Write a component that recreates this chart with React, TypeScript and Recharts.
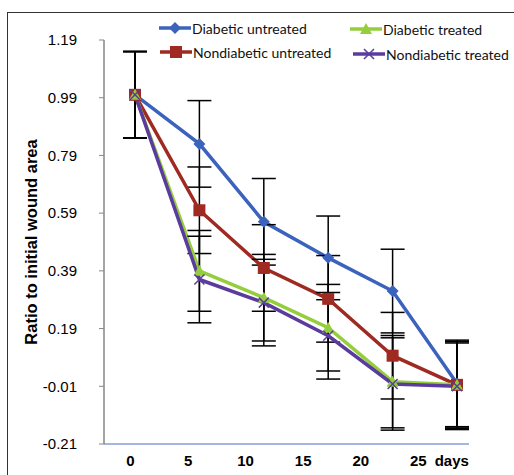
import React from "react";
import { LineChart, Line, XAxis, YAxis, ErrorBar } from "recharts";

// sampling points (evenly spaced in the source figure)
const points = ["p0", "p1", "p2", "p3", "p4", "p5"];

const diabeticUntreated = [1.0, 0.83, 0.56, 0.435, 0.32, 0.0];
const diabeticUntreatedErr = [0.15, 0.15, 0.15, 0.145, 0.145, 0.15];

const nondiabeticUntreated = [1.0, 0.6, 0.4, 0.293, 0.096, -0.005];
const nondiabeticUntreatedErr = [0.15, 0.15, 0.15, 0.15, 0.15, 0.15];

const diabeticTreated = [1.0, 0.39, 0.297, 0.193, 0.006, -0.005];
const diabeticTreatedErr = [0.15, 0.14, 0.15, 0.15, 0.16, 0.15];

const nondiabeticTreated = [1.0, 0.36, 0.28, 0.165, -0.002, -0.01];
const nondiabeticTreatedErr = [0.15, 0.15, 0.15, 0.15, 0.16, 0.15];

const yTicks = [-0.21, -0.01, 0.19, 0.39, 0.59, 0.79, 0.99, 1.19];
const dayTicks = [0, 5, 10, 15, 20, 25, 27.9];
const dayLabels = ["0", "5", "10", "15", "20", "25", "days"];

const BLUE = "#3B63BE";
const RED = "#9E2A22";
const GREEN = "#95CE3C";
const PURPLE = "#5A3C9E";

const data = points.map((p, i) => ({
  point: p,
  du: diabeticUntreated[i],
  duErr: diabeticUntreatedErr[i],
  nu: nondiabeticUntreated[i],
  nuErr: nondiabeticUntreatedErr[i],
  dt: diabeticTreated[i],
  dtErr: diabeticTreatedErr[i],
  nt: nondiabeticTreated[i],
  ntErr: nondiabeticTreatedErr[i],
}));

const Diamond = ({ cx, cy, color }: any) => (
  <path
    d={`M${cx},${cy - 6} L${cx + 6},${cy} L${cx},${cy + 6} L${cx - 6},${cy} Z`}
    fill={color}
  />
);
const Square = ({ cx, cy, color }: any) => (
  <rect x={cx - 6} y={cy - 6} width={12} height={12} fill={color} />
);
const Triangle = ({ cx, cy, color }: any) => (
  <path
    d={`M${cx},${cy - 6} L${cx + 6},${cy + 5} L${cx - 6},${cy + 5} Z`}
    fill={color}
  />
);
const Cross = ({ cx, cy, color }: any) => (
  <path
    d={`M${cx - 5},${cy - 5} L${cx + 5},${cy + 5} M${cx + 5},${cy - 5} L${cx - 5},${cy + 5}`}
    stroke={color}
    strokeWidth={1.5}
  />
);

const series = [
  { key: "du", name: "Diabetic untreated", color: BLUE, Marker: Diamond },
  { key: "nu", name: "Nondiabetic untreated", color: RED, Marker: Square },
  { key: "dt", name: "Diabetic treated", color: GREEN, Marker: Triangle },
  { key: "nt", name: "Nondiabetic treated", color: PURPLE, Marker: Cross },
];

// legend sits in two columns above the plot
const legendLayout = [
  { key: "du", left: 159, top: 19 },
  { key: "dt", left: 350, top: 20 },
  { key: "nu", left: 160, top: 43 },
  { key: "nt", left: 353, top: 45 },
];

function ChartLegend() {
  return (
    <>
      {legendLayout.map((l) => {
        const s = series.find((x) => x.key === l.key)!;
        const M = s.Marker;
        return (
          <div
            key={l.key}
            style={{
              position: "absolute",
              left: l.left,
              top: l.top,
              display: "flex",
              alignItems: "center",
              whiteSpace: "nowrap",
            }}
          >
            <svg width={32} height={18}>
              <line x1={0} y1={9} x2={32} y2={9} stroke={s.color} strokeWidth={3.5} />
              <M cx={16} cy={9} color={s.color} />
            </svg>
            <span
              style={{
                fontFamily: "Lato, 'Open Sans', sans-serif",
                fontSize: 14,
                color: "#111",
                marginLeft: 1,
              }}
            >
              {s.name}
            </span>
          </div>
        );
      })}
    </>
  );
}

const YTitle = ({ viewBox }: any) => {
  const cx = 31;
  const cy = viewBox.y + viewBox.height / 2;
  return (
    <text
      x={cx}
      y={cy}
      transform={`rotate(-90 ${cx} ${cy})`}
      textAnchor="middle"
      dominantBaseline="central"
      fontFamily="'Liberation Sans', Arial, sans-serif"
      fontWeight="bold"
      fontSize={16.5}
      fill="#000"
    >
      Ratio to initial wound area
    </text>
  );
};

export default function App() {
  return (
    <div
      style={{
        position: "absolute",
        left: 0,
        top: 0,
        width: 514,
        height: 475,
        overflow: "hidden",
        background: "#fff",
      }}
    >
      <div
        style={{
          position: "absolute",
          left: 7,
          top: 12,
          width: 510,
          height: 470,
          borderTop: "1.5px solid #333",
          borderLeft: "1.5px solid #333",
        }}
      />
      <LineChart
        width={514}
        height={475}
        data={data}
        margin={{ top: 40, right: 45, bottom: 0, left: 0 }}
      >
        <XAxis
          xAxisId="pts"
          dataKey="point"
          type="category"
          hide
          height={0}
          padding={{ left: 31, right: 12 }}
        />
        <XAxis
          xAxisId="days"
          dataKey="dayAxis"
          type="number"
          domain={[-2.3, 29.4]}
          ticks={dayTicks}
          tickFormatter={(v: number) => dayLabels[dayTicks.indexOf(v)]}
          allowDataOverflow
          height={31}
          axisLine={{ stroke: "#4A6FC0", strokeWidth: 1 }}
          tickLine={false}
          tickMargin={5}
          tick={{
            fontFamily: "'Liberation Sans', Arial, sans-serif",
            fontWeight: "bold",
            fontSize: 15,
            fill: "#000",
          }}
          interval={0}
        />
        <YAxis
          width={104}
          domain={[-0.21, 1.19]}
          ticks={yTicks}
          allowDataOverflow
          tickFormatter={(v: number) => v.toFixed(2)}
          axisLine={{ stroke: "#868686", strokeWidth: 1.5 }}
          tickLine={{ stroke: "#868686" }}
          tickSize={5}
          tickMargin={22}
          tick={{
            fontFamily: "'Liberation Sans Narrow', 'Liberation Sans', Arial, sans-serif",
            fontSize: 15,
            fill: "#000",
          }}
          interval={0}
          label={<YTitle />}
        />
        {series.map((s) => (
          <Line
            key={s.key}
            xAxisId="pts"
            dataKey={s.key}
            name={s.name}
            stroke={s.color}
            strokeWidth={3.5}
            isAnimationActive={false}
            dot={(p: any) => (
              <s.Marker key={`${s.key}-${p.index}`} cx={p.cx} cy={p.cy} color={s.color} />
            )}
            activeDot={false}
          >
            <ErrorBar
              dataKey={`${s.key}Err`}
              direction="y"
              width={12}
              stroke="#000"
              strokeWidth={1.5}
            />
          </Line>
        ))}
      </LineChart>
      <ChartLegend />
    </div>
  );
}
